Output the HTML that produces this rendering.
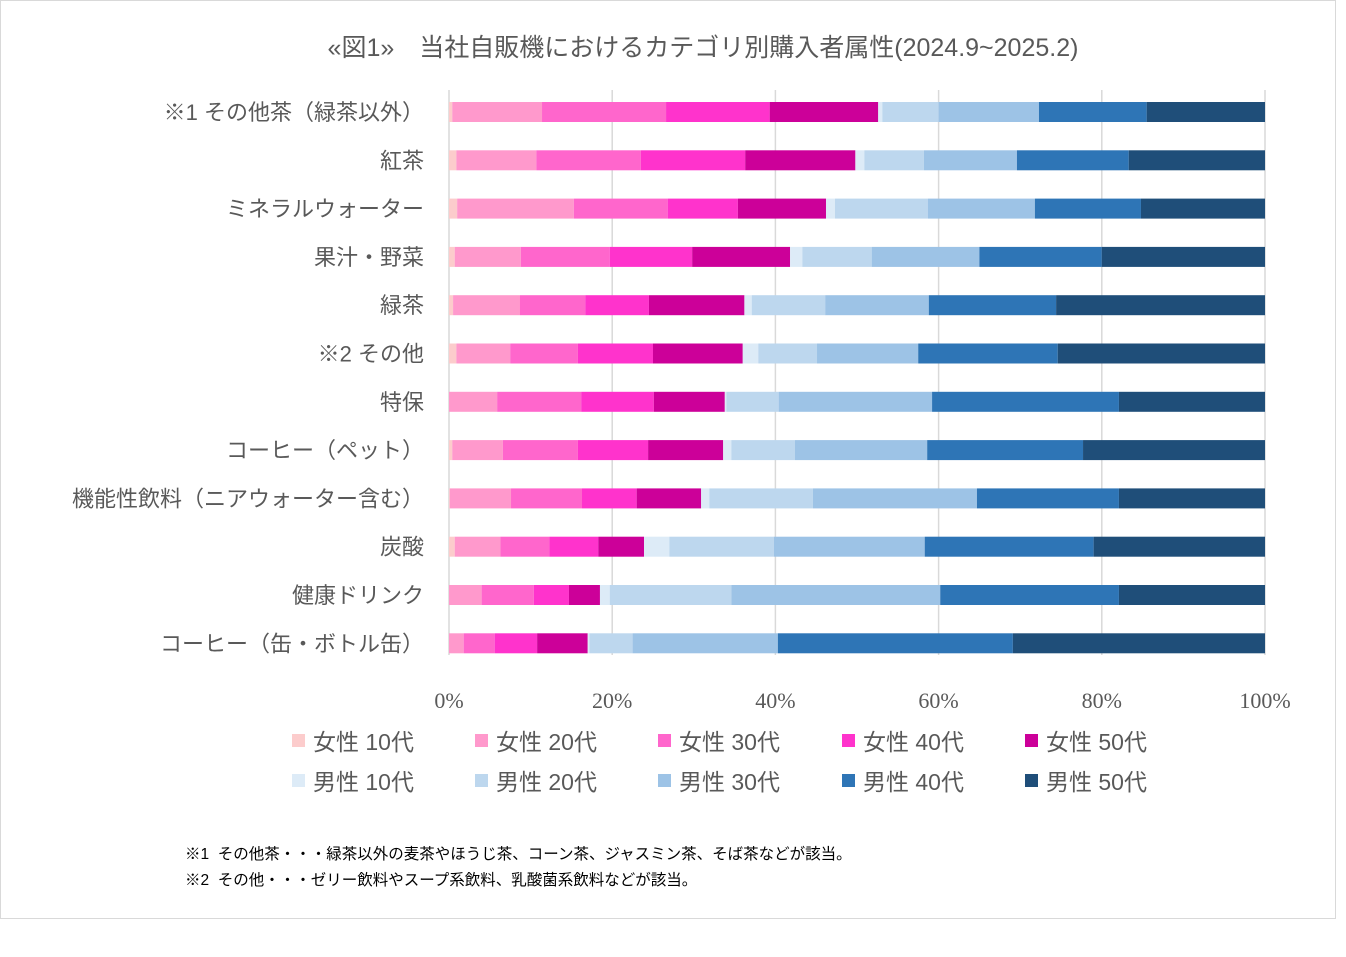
<!DOCTYPE html>
<html><head><meta charset="utf-8">
<style>
html,body{margin:0;padding:0;background:#fff;}
body{width:1346px;height:957px;overflow:hidden;position:relative;font-family:"Liberation Sans","Noto Sans CJK JP",sans-serif;}
#frame{position:absolute;left:0;top:0;width:1334px;height:917px;border:1px solid #d9d9d9;}
svg{position:absolute;left:0;top:0;}
.note{position:absolute;left:185px;font-size:15.5px;color:#000;white-space:nowrap;}
</style></head>
<body>
<div id="frame"></div>
<svg id="chart" width="1346" height="957"></svg>
<div class="note" style="top:842px">※1&nbsp; その他茶・・・緑茶以外の麦茶やほうじ茶、コーン茶、ジャスミン茶、そば茶などが該当。</div>
<div class="note" style="top:868px">※2&nbsp; その他・・・ゼリー飲料やスープ系飲料、乳酸菌系飲料などが該当。</div>
<script>
const categories=["※1 その他茶（緑茶以外）","紅茶","ミネラルウォーター","果汁・野菜","緑茶","※2 その他","特保","コーヒー（ペット）","機能性飲料（ニアウォーター含む）","炭酸","健康ドリンク","コーヒー（缶・ボトル缶）"];
const seriesNames=["女性 10代","女性 20代","女性 30代","女性 40代","女性 50代","男性 10代","男性 20代","男性 30代","男性 40代","男性 50代"];
const f10=[0.4,0.9,1.0,0.7,0.5,0.9,0,0.4,0.1,0.7,0,0];
const f20=[11.0,9.8,14.3,8.1,8.2,6.6,5.9,6.2,7.5,5.6,4.0,1.8];
const f30=[15.2,12.8,11.5,10.9,8.0,8.3,10.3,9.2,8.7,6.0,6.4,3.8];
const f40=[12.7,12.8,8.6,10.1,7.8,9.2,8.9,8.6,6.7,6.0,4.3,5.2];
const f50=[13.3,13.5,10.8,12.0,11.7,11.0,8.7,9.2,7.9,5.6,3.8,6.2];
const m10=[0.5,1.1,1.1,1.5,0.9,1.9,0.2,1.0,1.0,3.1,1.2,0.2];
const m20=[6.9,7.3,11.4,8.5,9.0,7.2,6.4,7.8,12.7,12.8,14.9,5.3];
const m30=[12.3,11.4,13.1,13.2,12.7,12.4,18.8,16.2,20.1,18.5,25.6,17.8];
const m40=[13.2,13.7,13.0,15.0,15.6,17.1,22.9,19.1,17.4,20.7,21.9,28.8];
const m50=[14.5,16.7,15.2,20.0,25.6,25.4,17.9,22.3,17.9,21.0,17.9,30.9];
const tickLabels=["0%","20%","40%","60%","80%","100%"];
const tickValues=[0,20,40,60,80,100];
const series=[f10,f20,f30,f40,f50,m10,m20,m30,m40,m50];
const colors=["#fccccc","#ff99cc","#ff66cc","#ff33cc","#cc0099","#ddebf7","#bdd7ee","#9dc3e6","#2e75b6","#1f4e79"];
const NS="http://www.w3.org/2000/svg";
const svg=document.getElementById('chart');
const x0=449,x1=1265,yTop=88,rowH=48.3;
const xs=v=>x0+(x1-x0)*v/100;
const yc=i=>yTop+24+rowH*i;
function mk(tag,attrs,parent){const e=document.createElementNS(NS,tag);for(const k in attrs)e.setAttribute(k,attrs[k]);(parent||svg).appendChild(e);return e;}
const title=mk('text',{x:703,y:56,'text-anchor':'middle','font-size':25,fill:'#595959'});
title.textContent="«図1»　当社自販機におけるカテゴリ別購入者属性(2024.9~2025.2)";


tickValues.forEach((t,i)=>{
  const g=mk('line',{x1:xs(t),x2:xs(t),y1:90,y2:655,stroke:'#d9d9d9','stroke-width':1.5});
  
  
  const tl=mk('text',{x:xs(t),y:708,'text-anchor':'middle','font-size':22,fill:'#595959','font-family':'"Liberation Serif",serif'});
  tl.textContent=tickLabels[i];
  
  
});
categories.forEach((c,i)=>{
  const lbl=mk('text',{x:424,y:yc(i)+8,'text-anchor':'end','font-size':22,fill:'#595959'});
  lbl.textContent=c;
  
  
  let cum=0;
  series.forEach((s,k)=>{
    const v=s[i];
    const r=mk('rect',{x:xs(cum),y:yc(i)-10,width:Math.max(0,xs(cum+v)-xs(cum)),height:20,fill:colors[k]});
    
    
    cum+=v;
  });
});
const legX=[292,475,658,842,1025],legY=[741,781];
seriesNames.forEach((n,k)=>{
  const lx=legX[k%5],ly=legY[Math.floor(k/5)];
  const sw=mk('rect',{x:lx,y:ly-7,width:13,height:13,fill:colors[k]});
  
  
  const lt=mk('text',{x:lx+21,y:ly+9,'font-size':23,fill:'#595959'});
  lt.textContent=n;
  
  
});
</script>
</body></html>
